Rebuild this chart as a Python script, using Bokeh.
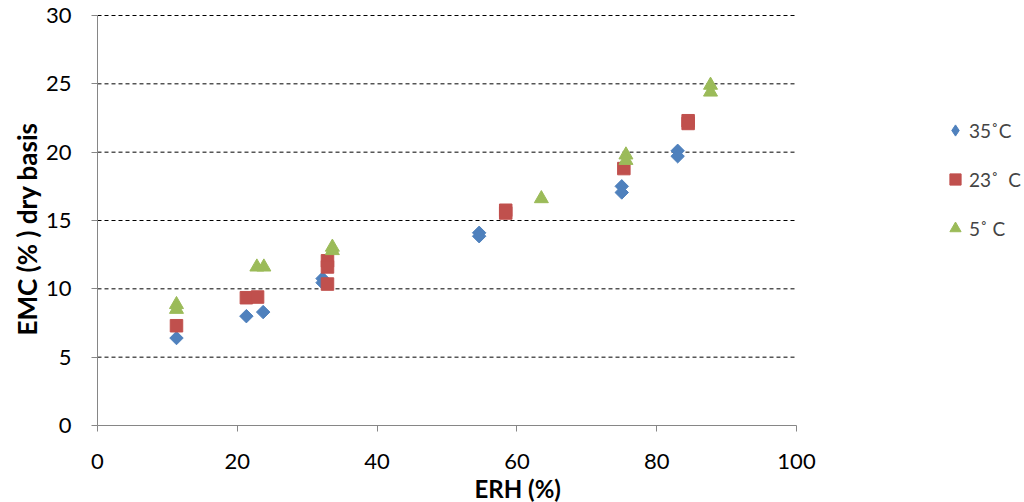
import math
from bokeh.plotting import figure
from bokeh.models import Range1d, Legend, LegendItem, FixedTicker, Title
from bokeh.embed import file_html
from bokeh.resources import INLINE

# Data
erh_35 = [11.3, 21.3, 23.7, 32.2, 32.2, 54.6, 54.6, 75.0, 75.0, 83.0, 83.0]
emc_35 = [6.4, 8.0, 8.3, 10.75, 10.45, 14.1, 13.85, 17.5, 17.05, 20.1, 19.7]

erh_23 = [11.3, 21.3, 22.9, 32.9, 32.9, 32.9, 58.4, 58.4, 75.3, 84.5, 84.5]
emc_23 = [7.3, 9.35, 9.4, 12.05, 11.6, 10.35, 15.75, 15.55, 18.8, 22.3, 22.1]

erh_5 = [11.3, 11.3, 22.8, 23.8, 33.6, 33.6, 63.5, 75.6, 75.6, 87.7, 87.7]
emc_5 = [8.85, 8.5, 11.6, 11.6, 13.05, 12.8, 16.6, 19.8, 19.4, 24.9, 24.4]

labels = ["35˚C", "23˚  C", "5˚ C"]
x_ticks = [0, 20, 40, 60, 80, 100]
y_ticks = [0, 5, 10, 15, 20, 25, 30]
x_title = "ERH (%)"
y_title = "EMC (% ) dry basis"

FONT = "Lato"
BLUE, RED, GREEN = "#4F81BD", "#C0504D", "#9BBB59"

X_MAX = x_ticks[-1]
Y_MAX = y_ticks[-1]

# frame spans to the right edge so the legend can sit inside it
p = figure(width=1024, height=502, output_backend="svg", toolbar_location=None,
           x_range=Range1d(0, X_MAX * 927 / 699), y_range=Range1d(0, Y_MAX * 415 / 410),
           min_border_left=97, min_border_right=0, min_border_top=10, min_border_bottom=77)
p.outline_line_color = None
p.background_fill_color = "white"
p.border_fill_color = "white"

# dashed horizontal grid lines, limited to the x axis extent
grid_y = y_ticks[1:]
p.segment(x0=[x_ticks[0]] * len(grid_y), y0=grid_y, x1=[X_MAX] * len(grid_y), y1=grid_y,
          line_color="black", line_dash="4 3", line_width=1)

r1 = p.scatter(erh_35, emc_35, marker="square", size=9.5, angle=math.pi / 4,
               fill_color=BLUE, line_color=BLUE)
r2 = p.scatter(erh_23, emc_23, marker="square", size=12.5, fill_color=RED, line_color=RED)
r3 = p.scatter(erh_5, emc_5, marker="triangle", size=14, fill_color=GREEN, line_color=GREEN)
# legend-only glyph for the diamond (legend swatches ignore rotation); not plotted
nan = float("nan")
r1_leg = p.scatter(x=[nan], y=[nan], marker="diamond", size=14, fill_color=BLUE, line_color=BLUE)

p.xgrid.visible = False
p.ygrid.visible = False

for ax in (p.xaxis[0], p.yaxis[0]):
    ax.axis_line_color = "#868686"
    ax.major_tick_line_color = "#868686"
    ax.minor_tick_line_color = None
    ax.major_tick_in = 0
    ax.major_tick_out = 6
    ax.major_label_text_font = FONT
    ax.major_label_text_font_size = "22px"
    ax.major_label_text_color = "black"

p.xaxis.bounds = (0, X_MAX)
p.yaxis.bounds = (0, Y_MAX)
p.xaxis.ticker = FixedTicker(ticks=x_ticks)
p.yaxis.ticker = FixedTicker(ticks=y_ticks)
p.xaxis.major_label_standoff = 22
p.yaxis.major_label_standoff = 20

xt = Title(text=x_title, align="left", offset=377, text_font=FONT, text_font_size="24px",
           text_font_style="bold", text_color="black", standoff=0)
p.add_layout(xt, "below")

yt = Title(text=y_title, align="left", offset=90, text_font=FONT, text_font_size="26px",
           text_font_style="bold", text_color="black", standoff=0)
p.add_layout(yt, "left")

legend = Legend(items=[LegendItem(label=labels[0], renderers=[r1_leg]),
                       LegendItem(label=labels[1], renderers=[r2]),
                       LegendItem(label=labels[2], renderers=[r3])],
                location=(844, 183), border_line_color=None, background_fill_alpha=0,
                label_text_font=FONT, label_text_font_size="19px",
                spacing=21, glyph_width=28, glyph_height=28, label_standoff=0, padding=0, margin=0)
p.add_layout(legend, "center")

open("out.html", "w").write(file_html(p, INLINE))
